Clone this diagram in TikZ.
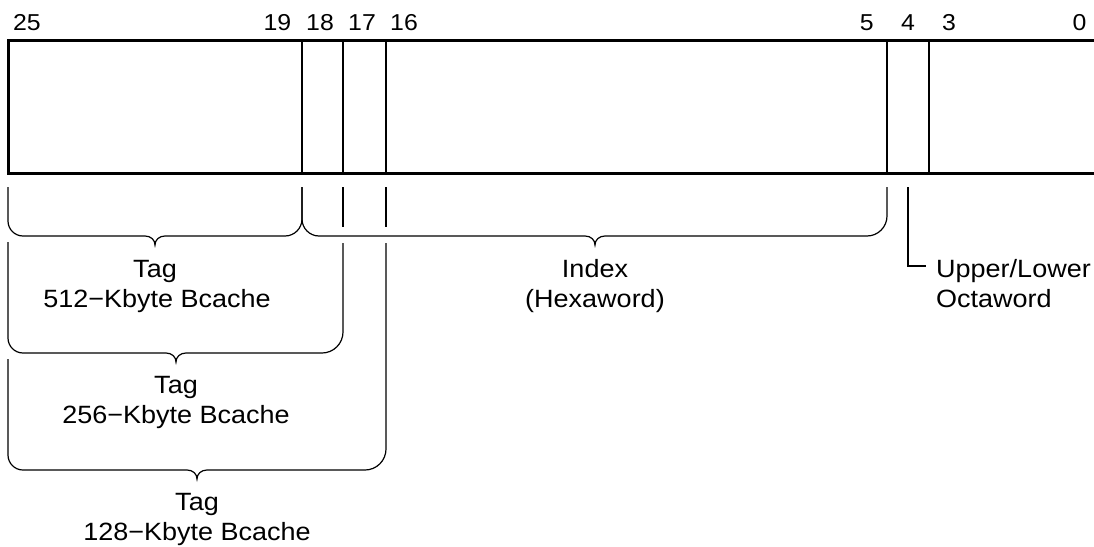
\documentclass[tikz,border=0pt]{standalone}
\usepackage{fontspec}
\setmainfont[FakeStretch=1.08]{Liberation Sans}
% curly bracket under a run of bits:
% #1 left x, #2 left top y, #3 right x, #4 right top y,
% #5 y of the horizontal run, #6 x of the tip, #7 left corner radius, #8 right corner radius
\newcommand\fieldbrace[8]{%
  \draw[bracket] (#1,#2) -- (#1,{#5-#7})
    .. controls (#1,{#5-0.45*#7}) and ({#1+0.45*#7},#5) .. ({#1+#7},#5)
    -- ({#6-10},#5)
    .. controls ({#6-4},#5) and (#6,{#5+4}) .. (#6,{#5+9})
    .. controls (#6,{#5+4}) and ({#6+4},#5) .. ({#6+10},#5)
    -- ({#3-#8},#5)
    .. controls ({#3-0.45*#8},#5) and (#3,{#5-0.45*#8}) .. (#3,{#5-#8})
    -- (#3,#4);}
\begin{document}
\begin{tikzpicture}[x=1pt,y=-1pt,
  frame/.style={line width=3pt},
  divider/.style={line width=1.6pt},
  bracket/.style={line width=1.2pt},
  lbl/.style={font=\fontsize{25}{30}\selectfont, inner sep=0pt, text=black},
  bitno/.style={font=\fontsize{23}{28}\selectfont, inner sep=0pt, text=black, anchor=base}]
\useasboundingbox (0,0) rectangle (1094,546);

% register outline (runs off to the right)
\draw[frame] (1110,40) -- (8,40) -- (8,173) -- (1110,173);
\foreach \x in {302,343,386,887,929}
  \draw[divider] (\x,40) -- (\x,173);

% bit numbers
\foreach \x/\n in {27/25, 277.5/19, 320/18, 362/17, 404/16, 866.7/5, 908/4, 949/3, 1079.5/0}
  \node[bitno] (bit\n) at (\x,30) {\n};

% tag field, 512-Kbyte Bcache
\fieldbrace{8}{187}{302}{187}{236}{155}{15}{17}
% index field
\fieldbrace{302}{187}{887}{187}{236}{595}{17}{20}
% tag field, 256-Kbyte Bcache
\draw[bracket] (343,187) -- (343,227);
\fieldbrace{8}{242}{343}{243}{353}{176}{15}{21}
% tag field, 128-Kbyte Bcache
\draw[bracket] (386,187) -- (386,227);
\fieldbrace{8}{359}{386}{243}{470}{197}{15}{21}

% octaword select bit
\coordinate (oct) at (926,266);
\draw[bracket] (908,187) -- (908,266) -- (oct);

% field labels
\node[lbl, anchor=base] (t512a) at (155,277) {Tag};
\node[lbl, anchor=base] (t512b) at (157,307) {512−Kbyte Bcache};
\node[lbl, anchor=base] (idxa) at (595,277) {Index};
\node[lbl, anchor=base] (idxb) at (595,307) {(Hexaword)};
\node[lbl, anchor=base] (t256a) at (176,393) {Tag};
\node[lbl, anchor=base] (t256b) at (176,423) {256−Kbyte Bcache};
\node[lbl, anchor=base] (t128a) at (197,510) {Tag};
\node[lbl, anchor=base] (t128b) at (197,540) {128−Kbyte Bcache};
\node[lbl, anchor=base west] (octa) at (936,277) {Upper/Lower};
\node[lbl, anchor=base west] (octb) at (936,307) {Octaword};
\end{tikzpicture}
\end{document}
